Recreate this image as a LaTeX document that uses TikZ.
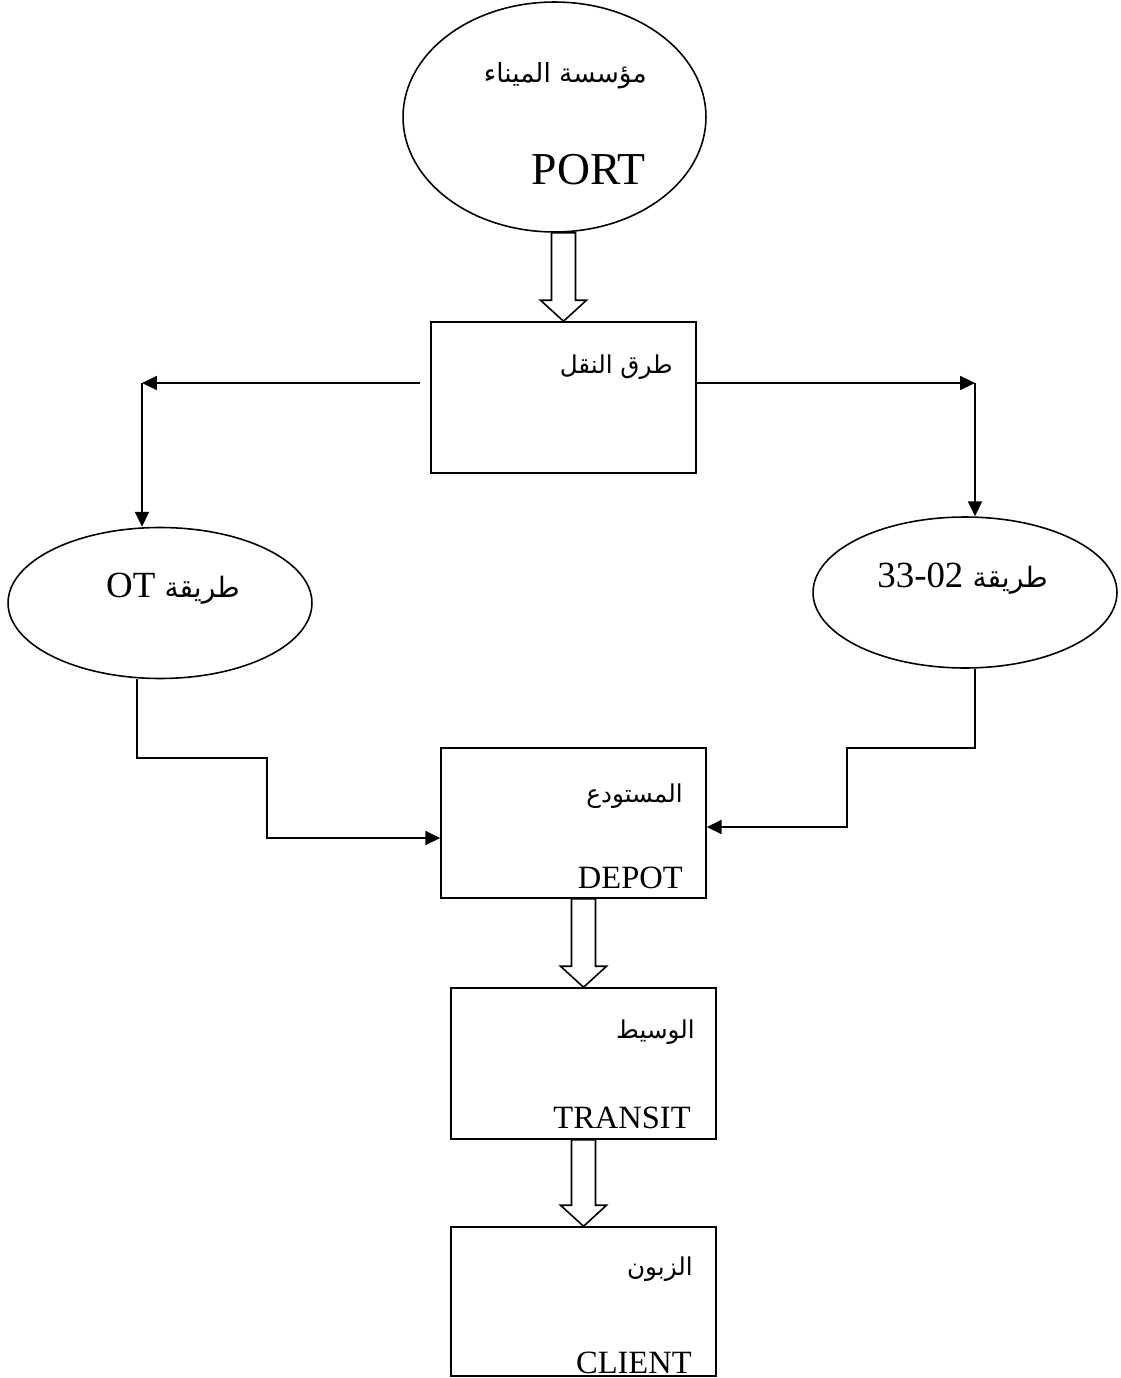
\documentclass[tikz,border=0pt]{standalone}
\usepackage{fontspec}
\setmainfont{Liberation Serif}
\newfontfamily\arabicfont[Script=Arabic]{DejaVu Sans}
\TeXXeTstate=1
\usetikzlibrary{shapes.geometric}
\usetikzlibrary{arrows.meta}
\usetikzlibrary{calc}
\usetikzlibrary{positioning}

\newcommand{\hollowarrow}[2]{%
\draw[block] let \p1=(#1), \p2=(#2) in
  (\x2-0.24cm,\y1) -- (\x2-0.24cm,\y2+0.42cm) -- (\x2-0.46cm,\y2+0.42cm) -- (\x2,\y2)
  -- (\x2+0.46cm,\y2+0.42cm) -- (\x2+0.24cm,\y2+0.42cm) -- (\x2+0.24cm,\y1) -- cycle;}

\begin{document}
\begin{tikzpicture}[x=0.02cm,y=-0.02cm,
  box/.style={draw,line width=0.9pt,minimum width=5.3cm,minimum height=3.02cm,inner sep=0},
  oval/.style={draw,ellipse,line width=0.9pt,minimum width=6.08cm,minimum height=3.02cm,inner sep=0},
  artext/.style={anchor=base east,inner sep=0,font=\arabicfont\fontsize{14}{16}\selectfont},
  latext/.style={anchor=base east,inner sep=0,font=\fontsize{18.5}{20}\selectfont},
  bigtext/.style={anchor=base east,inner sep=0,font=\fontsize{21}{24}\selectfont},
  conn/.style={line width=0.9pt,-{Triangle[length=8.5pt,width=8pt]}},
  block/.style={line width=0.9pt,fill=white}]
\useasboundingbox (0,0) rectangle (1121,1378);

\node[oval,minimum width=6.06cm,minimum height=4.6cm] (port) at (554.5,117) {};
\node[box] (transport) at (563.5,397.5) {};
\node[oval] (ot) at (160,603) {};
\node[oval] (norm) at (965,592.5) {};
\node[box,minimum height=3cm] (depot) at (573.5,823) {};
\node[box] (transit) at (583.5,1063.5) {};
\node[box,minimum height=2.98cm] (client) at (583.5,1301.5) {};

\node[artext,font=\arabicfont\fontsize{15}{17}\selectfont] (portar) at (647,83) {\beginR مؤسسة الميناء\endR};
\node[bigtext,font=\fontsize{26}{29}\selectfont] (portla) at (646,185) {PORT};
\node[artext] (transportar) at (673,373) {\beginR طرق النقل\endR};
\node[bigtext] (otla) at (240,597) {\beginR{\arabicfont\fontsize{16}{18}\selectfont طريقة} \beginL OT\endL\endR};
\node[bigtext] (normla) at (1048,587) {\beginR{\arabicfont\fontsize{16}{18}\selectfont طريقة} \beginL 33-02\endL\endR};
\node[artext] (depotar) at (683,802) {\beginR المستودع\endR};
\node[latext] (depotla) at (683,888) {DEPOT};
\node[artext] (transitar) at (695,1038) {\beginR الوسيط\endR};
\node[latext] (transitla) at (691,1128) {TRANSIT};
\node[artext] (clientar) at (693,1275) {\beginR الزبون\endR};
\node[latext] (clientla) at (692,1373) {CLIENT};

\coordinate (lcorner) at (142,383);
\coordinate (rcorner) at (975,383);
\draw[conn,shorten <=6pt] (transport.west |- lcorner) -- (lcorner);
\draw[conn] (lcorner) -- (lcorner |- ot.north);
\draw[conn] (transport.east |- rcorner) -- (rcorner);
\draw[conn] (rcorner) -- (rcorner |- norm.north);

\draw[conn] ([xshift=-0.46cm]ot.south) |- (267,758) |- ([yshift=-0.3cm]depot.west);
\draw[conn] ([xshift=0.2cm]norm.south) |- (847,748) |- ([yshift=-0.08cm]depot.east);

\hollowarrow{port.south}{transport.north}
\hollowarrow{depot.south}{transit.north}
\hollowarrow{transit.south}{client.north}
\end{tikzpicture}
\end{document}
